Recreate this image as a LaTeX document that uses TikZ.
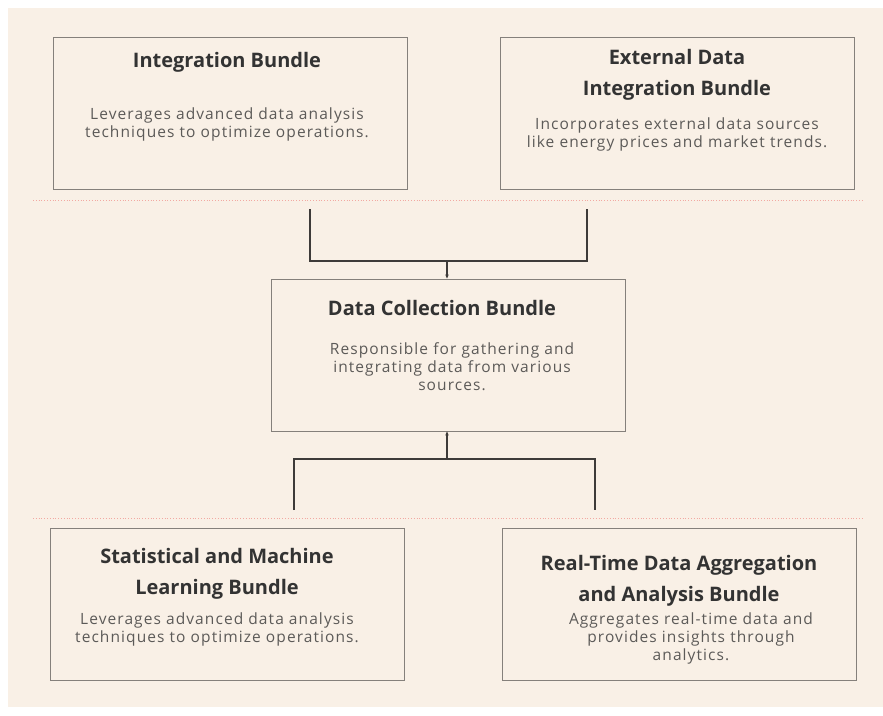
\documentclass[tikz,border=0pt]{standalone}
\usepackage{fontspec}
\setmainfont{Open Sans}
\newfontfamily\bodyfont[LetterSpace=7]{Open Sans}
\usetikzlibrary{arrows.meta}

\definecolor{panel}{HTML}{F9F0E6}
\definecolor{boxline}{HTML}{85807B}
\definecolor{wire}{HTML}{3E3B39}
\definecolor{titletext}{HTML}{333333}
\definecolor{bodytext}{HTML}{5C5A58}
\definecolor{rule}{HTML}{F2A9A2}

\tikzset{
  bundlebox/.style={draw=boxline,line width=0.9pt,fill=panel,minimum width=354pt,minimum height=152pt,inner sep=0pt},
  bundletitle/.style={align=center,text=titletext,font=\fontsize{20}{31}\selectfont\bfseries},
  bundletext/.style={align=center,text=bodytext,font=\bodyfont\fontsize{15.5}{18}\selectfont},
  wireline/.style={draw=wire,line width=1.1pt},
}

\begin{document}
\begin{tikzpicture}[x=1pt,y=-1pt]
\useasboundingbox (0,0) rectangle (883,715);
\fill[white] (0,0) rectangle (883,715);
\fill[panel] (8,8) rectangle (883,707);

% separator rules
\draw[rule,dotted,line width=0.8pt] (33,200) -- (862,200);
\draw[rule,dotted,line width=0.8pt] (33,518) -- (862,518);

% top row
\node[bundlebox] (intb) at (230,113) {};
\node[bundletitle] (intbt) at (227,62) {Integration Bundle};
\node[bundletext] (intbd) at (227,124) {Leverages advanced data analysis\\techniques to optimize operations.};

\node[bundlebox] (extb) at (677.5,113) {};
\node[bundletitle] (extbt) at (677,74.5) {External Data\\Integration Bundle};
\node[bundletext] (extbd) at (677,134) {Incorporates external data sources\\like energy prices and market trends.};

% middle
\node[bundlebox] (datb) at (448,355) {};
\node[bundletitle] (datbt) at (442,308) {Data Collection Bundle};
\node[bundletext] (datbd) at (452,367) {Responsible for gathering and\\integrating data from various\\sources.};

% bottom row
\node[bundlebox] (statb) at (227,604) {};
\node[bundletitle] (statbt) at (217,574) {Statistical and Machine\\Learning Bundle};
\node[bundletext] (statbd) at (217,629.5) {Leverages advanced data analysis\\techniques to optimize operations.};

\node[bundlebox] (rtb) at (679,604) {};
\node[bundletitle] (rtbt) at (679,580.5) {Real-Time Data Aggregation\\and Analysis Bundle};
\node[bundletext] (rtbd) at (691,638) {Aggregates real-time data and\\provides insights through\\analytics.};

% upper bracket into data collection
\coordinate (ua) at (310,209);
\coordinate (ub) at (587,209);
\coordinate (uj) at (447,261);
\draw[wireline] (ua) -- (ua|-uj) -- (ub|-uj) -- (ub);
\draw[wireline,-{Stealth[length=4pt,width=3.5pt]}] (uj) -- (uj|-datb.north);

% lower bracket into data collection
\coordinate (la) at (294,510);
\coordinate (lb) at (595,510);
\coordinate (lj) at (447,459);
\draw[wireline] (la) -- (la|-lj) -- (lb|-lj) -- (lb);
\draw[wireline,-{Stealth[length=4pt,width=3.5pt]}] (lj) -- (lj|-datb.south);
\end{tikzpicture}
\end{document}
